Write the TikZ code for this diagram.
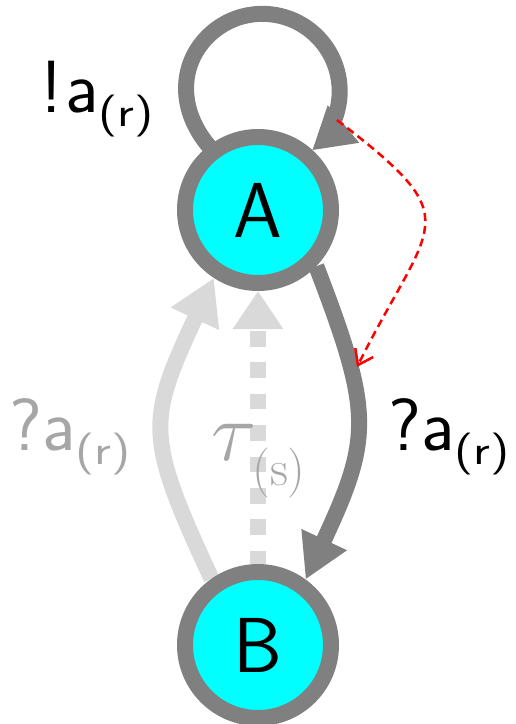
\RequirePackage{fix-cm}
\documentclass[tikz,border=0pt]{standalone}
\usepackage{fontspec}
\usetikzlibrary{arrows.meta,backgrounds}
\definecolor{edgegray}{HTML}{808080}
\definecolor{lightedge}{HTML}{D9D9D9}
\definecolor{labelgray}{HTML}{A6A6A6}
\definecolor{nodecyan}{HTML}{00FFFF}
\definecolor{hintred}{HTML}{FF0000}
\newcommand\mysub[1]{\raisebox{-14pt}{\scalebox{1.25}[1]{\fontsize{42}{42}\selectfont #1}}}
\begin{document}
\begin{tikzpicture}[x=1pt,y=1pt,
  state/.style={circle,draw=edgegray,fill=nodecyan,line width=16pt,
    minimum size=146pt,inner sep=0pt,font=\sffamily\fontsize{78}{78}\selectfont},
  lbl/.style={inner sep=0pt,anchor=base west,font=\sffamily\fontsize{74}{74}\selectfont},
  darkedge/.style={draw=edgegray,line width=16pt},
  lightedgestyle/.style={draw=lightedge,line width=16pt},
  hint/.style={draw=hintred,line width=2.5pt,dash pattern=on 8pt off 5pt,
    -{Straight Barb[length=14pt,width=20pt]}}]
\useasboundingbox (0,0) rectangle (515,-724);
\node[state] (A) at (258,-210) {A};
\node[state] (B) at (258,-645) {B};
\node[lbl] (l1) at (40,-112) {!\kern3pt a\mysub{(r)}};
\node[lbl,text=labelgray] (l2) at (9,-450) {?a\mysub{(r)}};
\node[lbl] (l3) at (388,-450) {?a\mysub{(r)}};
\node[inner sep=0pt,anchor=base west,text=labelgray] (l4) at (211,-460)
  {\fontsize{84}{84}\selectfont$\tau$\kern-4pt\raisebox{-25pt}{\fontsize{50}{50}\selectfont (s)}};
\begin{scope}[on background layer]
\draw[darkedge,-{Triangle[length=41pt,width=46pt]},shorten <=-12pt]
  (A.128) arc[start angle=225.4,end angle=-50,radius=77.3];
\draw[darkedge,-{Triangle[length=44pt,width=47pt]}]
  (A.-44) to[out=-69,in=65,looseness=1.28] (B.54);
\draw[lightedgestyle,-{Triangle[length=45pt,width=50pt]}]
  (B.125) to[out=115,in=245,looseness=1.34] (A.237);
\draw[lightedgestyle,dash pattern=on 15.7pt off 15.7pt,dash phase=2.4pt,
  -{Triangle[length=38pt,width=48pt]}] (B.90) -- (A.270);
\end{scope}
\coordinate (r1) at (337,-120);
\coordinate (r2) at (357,-367);
\draw[hint] (r1) .. controls (470,-222) and (432,-217) .. (r2);
\end{tikzpicture}
\end{document}
